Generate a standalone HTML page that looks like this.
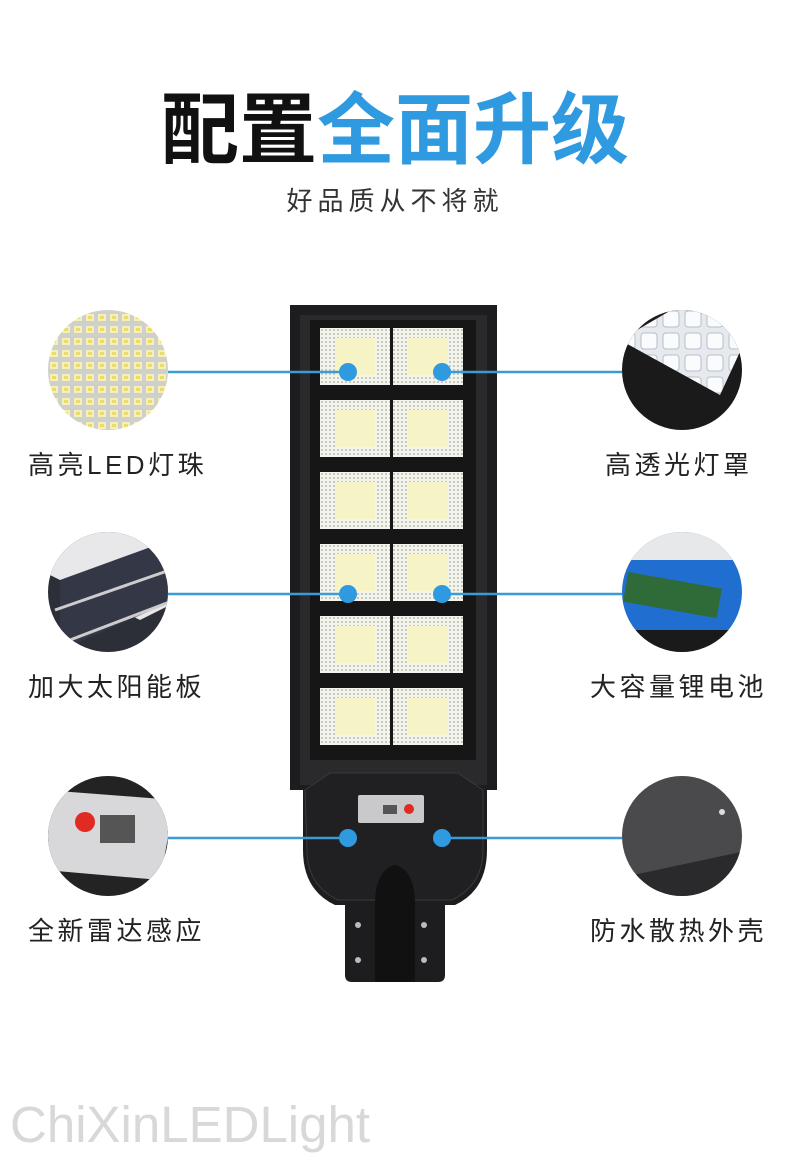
<!DOCTYPE html>
<html><head><meta charset="utf-8"><style>
html,body{margin:0;padding:0;background:#fff;}
svg{display:block}
text{font-family:"Liberation Sans","Noto Sans CJK SC",sans-serif;}
</style></head><body>
<svg width="790" height="1162" viewBox="0 0 790 1162" xmlns="http://www.w3.org/2000/svg">
<defs>
<pattern id="led" width="12" height="12" patternUnits="userSpaceOnUse">
<rect width="12" height="12" fill="#cfd0cc"/><rect x="2" y="2" width="8" height="7" fill="#f6f0b8"/><rect x="4" y="4" width="4" height="3" fill="#e8dc70"/></pattern>
<pattern id="dots" width="4" height="4" patternUnits="userSpaceOnUse">
<rect width="4" height="4" fill="#f4f4ee"/><rect x="1" y="1" width="2" height="2" fill="#c8c8bc"/></pattern>
<pattern id="lens" width="22" height="22" patternUnits="userSpaceOnUse">
<rect width="22" height="22" fill="#e6e9ee"/><rect x="3" y="3" width="16" height="16" rx="3" fill="#fafbfd" stroke="#b8bec8"/></pattern>
<clipPath id="c1"><circle cx="108" cy="370" r="60"/></clipPath>
<clipPath id="c2"><circle cx="682" cy="370" r="60"/></clipPath>
<clipPath id="c3"><circle cx="108" cy="592" r="60"/></clipPath>
<clipPath id="c4"><circle cx="682" cy="592" r="60"/></clipPath>
<clipPath id="c5"><circle cx="108" cy="836" r="60"/></clipPath>
<clipPath id="c6"><circle cx="682" cy="836" r="60"/></clipPath>
</defs>

<text x="395" y="157" text-anchor="middle" font-size="78" font-weight="bold"><tspan fill="#111">配置</tspan><tspan fill="#2f9ae0">全面升级</tspan></text>
<text x="395" y="210" text-anchor="middle" font-size="26" fill="#333" letter-spacing="5">好品质从不将就</text>

<!-- lamp body -->
<path d="M290 305 H497 V790 H487 V850 Q487 890 455 905 H445 V975 Q445 982 438 982 H352 Q345 982 345 975 V905 H335 Q303 890 303 850 V790 H290 Z" fill="#1d1d1f"/>
<path d="M300 315 H487 V785 H300 Z" fill="#2a2a2c"/>
<rect x="310" y="320" width="166" height="440" fill="#161617"/>
<g>
<rect x="320" y="328" width="70" height="57" fill="url(#dots)"/><rect x="335" y="338" width="40" height="37" fill="#f6f3c6"/>
<rect x="393" y="328" width="70" height="57" fill="url(#dots)"/><rect x="408" y="338" width="40" height="37" fill="#f6f3c6"/>
<rect x="320" y="400" width="70" height="57" fill="url(#dots)"/><rect x="335" y="410" width="40" height="37" fill="#f6f3c6"/>
<rect x="393" y="400" width="70" height="57" fill="url(#dots)"/><rect x="408" y="410" width="40" height="37" fill="#f6f3c6"/>
<rect x="320" y="472" width="70" height="57" fill="url(#dots)"/><rect x="335" y="482" width="40" height="37" fill="#f6f3c6"/>
<rect x="393" y="472" width="70" height="57" fill="url(#dots)"/><rect x="408" y="482" width="40" height="37" fill="#f6f3c6"/>
<rect x="320" y="544" width="70" height="57" fill="url(#dots)"/><rect x="335" y="554" width="40" height="37" fill="#f6f3c6"/>
<rect x="393" y="544" width="70" height="57" fill="url(#dots)"/><rect x="408" y="554" width="40" height="37" fill="#f6f3c6"/>
<rect x="320" y="616" width="70" height="57" fill="url(#dots)"/><rect x="335" y="626" width="40" height="37" fill="#f6f3c6"/>
<rect x="393" y="616" width="70" height="57" fill="url(#dots)"/><rect x="408" y="626" width="40" height="37" fill="#f6f3c6"/>
<rect x="320" y="688" width="70" height="57" fill="url(#dots)"/><rect x="335" y="698" width="40" height="37" fill="#f6f3c6"/>
<rect x="393" y="688" width="70" height="57" fill="url(#dots)"/><rect x="408" y="698" width="40" height="37" fill="#f6f3c6"/>
</g>
<!-- lower housing -->
<path d="M305 790 L330 773 H458 L483 790 V850 Q483 885 452 900 H338 Q307 885 307 850 Z" fill="#202022" stroke="#3a3a3c"/>
<rect x="358" y="795" width="66" height="28" fill="#c9c9cb" rx="2"/>
<rect x="383" y="805" width="14" height="9" fill="#555"/>
<circle cx="409" cy="809" r="5" fill="#e02a22"/>
<path d="M375 905 Q375 870 395 865 Q415 870 415 905 V982 H375 Z" fill="#111"/>
<circle cx="358" cy="925" r="3" fill="#bbb"/><circle cx="424" cy="925" r="3" fill="#bbb"/>
<circle cx="358" cy="960" r="3" fill="#bbb"/><circle cx="424" cy="960" r="3" fill="#bbb"/>

<!-- connectors -->
<g stroke="#3a9bd5" stroke-width="2.5">
<line x1="168" y1="372" x2="348" y2="372"/><line x1="442" y1="372" x2="622" y2="372"/>
<line x1="168" y1="594" x2="348" y2="594"/><line x1="442" y1="594" x2="622" y2="594"/>
<line x1="168" y1="838" x2="348" y2="838"/><line x1="442" y1="838" x2="622" y2="838"/>
</g>
<g fill="#2f9ae0">
<circle cx="348" cy="372" r="9"/><circle cx="442" cy="372" r="9"/>
<circle cx="348" cy="594" r="9"/><circle cx="442" cy="594" r="9"/>
<circle cx="348" cy="838" r="9"/><circle cx="442" cy="838" r="9"/>
</g>

<!-- circle images -->
<g clip-path="url(#c1)"><rect x="40" y="300" width="140" height="140" fill="url(#led)"/></g>
<g clip-path="url(#c2)"><rect x="610" y="300" width="140" height="140" fill="#1a1a1a"/><path d="M620 340 L680 305 L750 330 L720 395 Z" fill="url(#lens)"/></g>
<g clip-path="url(#c3)"><rect x="40" y="520" width="140" height="140" fill="#2c2e38"/><path d="M40 520 H180 V600 L140 620 L40 570Z" fill="#e8e8ea"/><path d="M60 580 L170 540 L175 600 L60 650Z" fill="#343846"/><line x1="55" y1="610" x2="170" y2="570" stroke="#ccc" stroke-width="3"/><line x1="70" y1="640" x2="175" y2="600" stroke="#ccc" stroke-width="3"/></g>
<g clip-path="url(#c4)"><rect x="610" y="520" width="140" height="140" fill="#1f6ed0"/><rect x="610" y="520" width="140" height="40" fill="#e6e8ea"/><rect x="625" y="580" width="95" height="30" fill="#2e6b38" transform="rotate(10 672 595)"/><rect x="610" y="630" width="140" height="30" fill="#1a1a1a"/></g>
<g clip-path="url(#c5)"><rect x="40" y="770" width="140" height="140" fill="#232323"/><path d="M45 790 L175 800 L160 880 L45 870Z" fill="#d8d8da"/><rect x="100" y="815" width="35" height="28" fill="#555"/><circle cx="85" cy="822" r="10" fill="#e02a22"/></g>
<g clip-path="url(#c6)"><rect x="610" y="770" width="140" height="140" fill="#4a4a4c"/><path d="M610 880 L750 850 V910 H610Z" fill="#2a2a2c"/><circle cx="722" cy="812" r="3" fill="#ddd"/></g>

<g font-size="26" fill="#222" letter-spacing="3.5">
<text x="28" y="474">高亮LED灯珠</text>
<text x="605" y="474">高透光灯罩</text>
<text x="28" y="696">加大太阳能板</text>
<text x="590" y="696">大容量锂电池</text>
<text x="28" y="940">全新雷达感应</text>
<text x="590" y="940">防水散热外壳</text>
</g>
<text x="10" y="1142" font-size="51" fill="#d8d8d8">ChiXinLEDLight</text>
</svg>
</body></html>
